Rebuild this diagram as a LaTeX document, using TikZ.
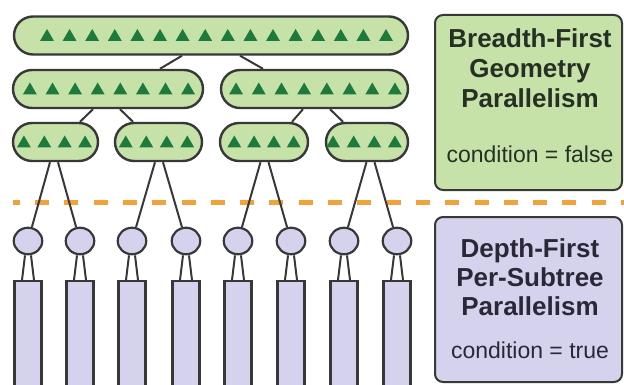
\documentclass[tikz,border=0pt]{standalone}
\usepackage{fontspec}
\setmainfont{Liberation Sans}
\usetikzlibrary{shapes.misc,shapes.geometric}
\definecolor{boxgreen}{HTML}{C7E2A8}
\definecolor{boxpurple}{HTML}{D4D2EC}
\definecolor{leafgreen}{HTML}{1E7A3C}
\definecolor{edge}{HTML}{383838}
\definecolor{cutorange}{HTML}{F2A23A}
\definecolor{inkgreen}{HTML}{263024}
\definecolor{inkpurple}{HTML}{2A2836}

% a row of #2 triangles inside node #1, spaced #3 apart, shifted #4 sideways
\newcommand\trirow[4]{%
  \foreach \k in {1,...,#2}{%
    \fill[tri] ([shift={({#4+(\k-(#2+1)/2)*#3},5.5)}]#1.center)
      -- ++(7,0) -- ++(-7,-12) -- ++(-7,12) -- cycle;
  }%
}

\tikzset{
  tree/.style={rounded rectangle, draw=edge, line width=2.4pt, fill=boxgreen,
    inner sep=0pt, minimum height=38pt},
  leaf/.style={ellipse, draw=edge, line width=2.2pt, fill=boxpurple,
    inner sep=0pt, minimum width=28.5pt, minimum height=26.5pt},
  stem/.style={rectangle, draw=edge, line width=2.2pt, fill=boxpurple,
    inner sep=0pt, minimum width=27pt, minimum height=130pt, anchor=north},
  link/.style={draw=edge, line width=2pt},
  panel/.style={rectangle, rounded corners=8pt, draw=edge, line width=2pt,
    inner sep=0pt, minimum width=187pt},
  tri/.style={fill=leafgreen},
  head/.style={font=\fontsize{26}{30}\selectfont\bfseries, anchor=base},
  cond/.style={font=\fontsize{23}{26}\selectfont, anchor=base},
  cut/.style={draw=cutorange, line width=5pt, dash pattern=on 14pt off 15.3pt,
    dash phase=7.3pt}
}

\begin{document}
\begin{tikzpicture}[x=1pt,y=-1pt]
\useasboundingbox (0,0) rectangle (624,385);
\clip (0,0) rectangle (624,385);

% boundary between the two phases
\coordinate (cutL) at (13,202);
\coordinate (cutR) at (630,202);
\draw[cut] (cutL) -- (cutR);

% breadth-first tree
\node[tree, minimum width=394pt] (t0) at (211,35.5) {};
\node[tree, minimum width=190pt] (a1) at (108,89) {};
\node[tree, minimum width=187pt] (a2) at (314.5,89) {};
\node[tree, minimum width=85pt] (b1) at (55.5,142) {};
\node[tree, minimum width=87pt] (b2) at (158.5,142) {};
\node[tree, minimum width=88pt] (b3) at (264,142) {};
\node[tree, minimum width=82pt] (b4) at (367,142) {};

\trirow{t0}{16}{22.6}{5.5}
\trirow{a1}{8}{22.6}{1}
\trirow{a2}{8}{22.7}{1}
\trirow{b1}{4}{20.4}{-1}
\trirow{b2}{4}{20.5}{-2}
\trirow{b3}{4}{19.8}{0}
\trirow{b4}{4}{20.6}{-3}

\draw[link] ([xshift=-29pt]t0.south) -- ([xshift=52pt]a1.north);
\draw[link] ([xshift=29pt]t0.south) -- ([xshift=-51.5pt]a2.north);
\draw[link] ([xshift=-15pt]a1.south) -- ([xshift=24.5pt]b1.north);
\draw[link] ([xshift=12pt]a1.south) -- ([xshift=-25.5pt]b2.north);
\draw[link] ([xshift=-11.5pt]a2.south) -- ([xshift=28pt]b3.north);
\draw[link] ([xshift=15.5pt]a2.south) -- ([xshift=-24pt]b4.north);

% depth-first subtrees
\foreach \i/\x in {1/28,2/80,3/132,4/186,5/238,6/291,7/344,8/397}{
  \node[leaf] (c\i) at (\x,241) {};
  \node[stem] (r\i) at (\x,280) {};
  \draw[link] ([xshift=-3pt]c\i.south) -- ([xshift=-6pt]r\i.north);
  \draw[link] ([xshift=3pt]c\i.south) -- ([xshift=6pt]r\i.north);
}

\draw[link] ([xshift=-5.5pt]b1.south) -- (c1);
\draw[link] ([xshift=2.5pt]b1.south) -- (c2);
\draw[link] ([xshift=-3.5pt]b2.south) -- (c3);
\draw[link] ([xshift=4.5pt]b2.south) -- (c4);
\draw[link] ([xshift=-3.5pt]b3.south) -- (c5);
\draw[link] ([xshift=4.5pt]b3.south) -- (c6);
\draw[link] ([xshift=-0.5pt]b4.south) -- (c7);
\draw[link] ([xshift=7.5pt]b4.south) -- (c8);

% legend panels
\node[panel, fill=boxgreen, minimum height=175pt] (bf) at (528.5,102.5) {};
\node[panel, fill=boxpurple, minimum height=165pt] (df) at (528.5,299.5) {};

\node[head, text=inkgreen] (bf1) at (530,48) {Breadth-First};
\node[head, text=inkgreen] (bf2) at (530,78) {Geometry};
\node[head, text=inkgreen] (bf3) at (530,108) {Parallelism};
\node[cond, text=inkgreen] (bf4) at (530,163) {condition = false};

\node[head, text=inkpurple] (df1) at (530,257) {Depth-First};
\node[head, text=inkpurple] (df2) at (530,286) {Per-Subtree};
\node[head, text=inkpurple] (df3) at (530,315) {Parallelism};
\node[cond, text=inkpurple] (df4) at (530,358) {condition = true};
\end{tikzpicture}
\end{document}
